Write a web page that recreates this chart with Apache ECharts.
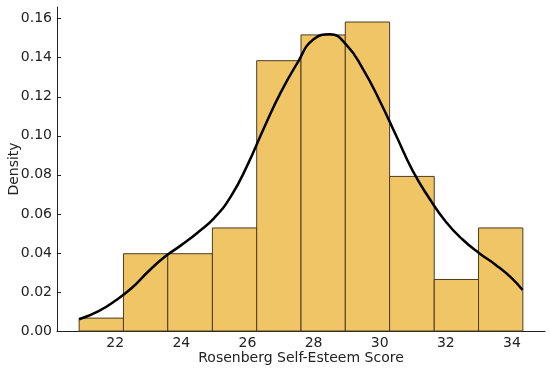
<!DOCTYPE html>
<html>
<head>
<meta charset="utf-8">
<script src="https://cdn.jsdelivr.net/npm/echarts@6/dist/echarts.min.js"></script>
<style>html,body{margin:0;padding:0;background:#fff}#c{width:550px;height:370px}</style>
</head>
<body>
<div id="c"></div>
<script>
var binEdges = [20.91, 22.25, 23.59, 24.94, 26.28, 27.62, 28.96, 30.30, 31.65, 32.99, 34.33];
var densities = [0.0066, 0.0396, 0.0396, 0.0528, 0.1385, 0.1517, 0.1583, 0.0792, 0.0264, 0.0528];
var kdeX = [20.91, 21.5, 22.0, 22.5, 23.0, 23.5, 24.0, 24.5, 25.0, 25.5, 26.0, 26.5, 27.0, 27.5, 28.0, 28.5, 29.0, 29.5, 30.0, 30.5, 31.0, 31.5, 32.0, 32.5, 33.0, 33.5, 34.0, 34.32];
var kdeY = [0.006, 0.0102, 0.0155, 0.022, 0.0305, 0.038, 0.044, 0.0505, 0.058, 0.069, 0.085, 0.104, 0.122, 0.137, 0.1495, 0.152, 0.1465, 0.134, 0.118, 0.100, 0.082, 0.068, 0.056, 0.047, 0.040, 0.034, 0.027, 0.021];
var xTicks = [22, 24, 26, 28, 30, 32, 34];
var yTicks = [0, 0.02, 0.04, 0.06, 0.08, 0.10, 0.12, 0.14, 0.16];

var barData = densities.map(function (d, i) { return [binEdges[i], binEdges[i + 1], d]; });
var lineData = kdeX.map(function (x, i) { return [x, kdeY[i]]; });

var chart = echarts.init(document.getElementById('c'), null, {renderer: 'canvas'});
var font = 'DejaVu Sans';
chart.setOption({
  animation: false,
  grid: {left: 57, right: 5, top: 7, bottom: 39, containLabel: false, outerBoundsMode: 'none'},
  xAxis: {
    type: 'value', min: 20.24, max: 35.0,
    name: 'Rosenberg Self-Esteem Score', nameLocation: 'middle', nameGap: 20, nameMoveOverlap: false,
    nameTextStyle: {fontFamily: font, fontSize: 14, color: '#222'},
    axisLine: {show: true, lineStyle: {color: '#222', width: 1}},
    axisTick: {show: true, inside: true, length: 4, customValues: xTicks, lineStyle: {color: '#222'}},
    axisLabel: {customValues: xTicks, fontFamily: font, fontSize: 14, color: '#222', margin: 5,
      formatter: function (v) { return String(v); }},
    splitLine: {show: false}
  },
  yAxis: {
    type: 'value', min: 0, max: 0.166,
    name: 'Density', nameLocation: 'middle', nameGap: 36, nameRotate: 90, nameMoveOverlap: false,
    nameTextStyle: {fontFamily: font, fontSize: 14, color: '#222'},
    axisLine: {show: true, lineStyle: {color: '#222', width: 1}},
    axisTick: {show: true, inside: true, length: 4, customValues: yTicks, lineStyle: {color: '#222'}},
    axisLabel: {customValues: yTicks, fontFamily: font, fontSize: 14, color: '#222', margin: 5,
      formatter: function (v) { return v.toFixed(2); }},
    splitLine: {show: false}
  },
  series: [
    {
      type: 'custom',
      data: barData,
      renderItem: function (params, api) {
        var p0 = api.coord([api.value(0), api.value(2)]);
        var p1 = api.coord([api.value(1), 0]);
        return {
          type: 'rect',
          shape: {x: p0[0], y: p0[1], width: p1[0] - p0[0], height: p1[1] - p0[1]},
          style: {fill: '#F0C566', stroke: '#4a3d22', lineWidth: 1}
        };
      },
      encode: {x: [0, 1], y: 2},
      z: 1
    },
    {
      type: 'line',
      data: lineData,
      smooth: 0.5,
      showSymbol: false,
      lineStyle: {color: '#000', width: 2.5},
      z: 3
    }
  ]
});
</script>
</body>
</html>
